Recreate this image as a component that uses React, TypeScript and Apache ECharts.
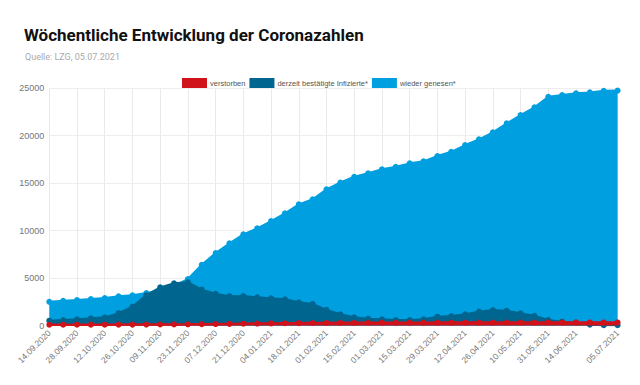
import React, { useEffect, useRef } from "react";
import * as echarts from "echarts";

const dates = [
  "14.09.2020", "21.09.2020", "28.09.2020", "05.10.2020", "12.10.2020", "19.10.2020", "26.10.2020",
  "02.11.2020", "09.11.2020", "16.11.2020", "23.11.2020", "30.11.2020", "07.12.2020", "14.12.2020",
  "21.12.2020", "28.12.2020", "04.01.2021", "11.01.2021", "18.01.2021", "25.01.2021", "01.02.2021",
  "08.02.2021", "15.02.2021", "22.02.2021", "01.03.2021", "08.03.2021", "15.03.2021", "22.03.2021",
  "29.03.2021", "05.04.2021", "12.04.2021", "19.04.2021", "26.04.2021", "03.05.2021", "10.05.2021",
  "17.05.2021", "31.05.2021", "07.06.2021", "14.06.2021", "21.06.2021", "28.06.2021", "05.07.2021",
];

const verstorben = [
  80, 82, 84, 86, 88, 90, 93, 97, 103, 112, 124, 138, 154, 170, 188, 206, 222, 237, 250, 261, 271,
  279, 285, 290, 294, 297, 300, 302, 304, 306, 308, 310, 312, 314, 316, 318, 320, 321, 322, 322, 323, 323,
];

const infizierte = [
  510, 580, 650, 760, 860, 1300, 1980, 3210, 4020, 4450, 4550, 3780, 3340, 3090, 3110, 2970, 2860,
  2760, 2440, 2270, 1650, 1180, 860, 720, 650, 580, 580, 660, 930, 1000, 1180, 1460, 1630, 1560,
  1290, 1030, 580, 400, 300, 80, 30, 30,
];

const genesen = [
  2500, 2610, 2690, 2790, 2900, 3080, 3180, 3420, 3700, 4150, 4900, 6400, 7640, 8660, 9610, 10240,
  11010, 11820, 12770, 13300, 14350, 15070, 15680, 16040, 16460, 16730, 17090, 17300, 17860, 18310,
  19020, 19620, 20360, 21300, 22180, 22990, 24110, 24290, 24470, 24570, 24740, 24760,
];

const seriesNames = ["verstorben", "derzeit bestätigte Infizierte*", "wieder genesen*"];
const yTicks = { min: 0, max: 25000, interval: 5000 };

const tooltipDate = "22.03.2021";
const tooltipRows = ["verstorben: 302", "derzeit bestätigte Infizierte*: 660", "wieder genesen*: 17300"];

const RED = "#d0121b";
const DARK = "#00668f";
const LIGHT = "#009fe0";

const showIdx = (i: number) => (i % 2 === 0 && i !== dates.length - 2) || i === dates.length - 1;

export default function App() {
  const ref = useRef<HTMLDivElement>(null);
  useEffect(() => {
    if (!ref.current) return;
    const chart = echarts.init(ref.current, undefined, { renderer: "svg" });
    const axisFont = "Liberation Sans, Arial, sans-serif";
    const tipFill = "rgba(0,50,90,0.3)";
    chart.setOption({
      animation: false,
      backgroundColor: "#ffffff",
      title: [
        {
          text: "Wöchentliche Entwicklung der Coronazahlen",
          left: 19,
          top: 21,
          textStyle: { fontFamily: "Roboto, sans-serif", fontWeight: "bold", fontSize: 17, color: "#111" },
        },
        {
          text: "Quelle: LZG, 05.07.2021",
          left: 20,
          top: 47,
          textStyle: { fontFamily: "Roboto, sans-serif", fontWeight: "normal", fontSize: 9, color: "#aaa" },
        },
      ],
      legend: {
        top: 73,
        left: 177,
        itemWidth: 25,
        itemHeight: 10,
        itemGap: 4,
        icon: "rect",
        data: seriesNames,
        textStyle: { fontFamily: axisFont, fontSize: 7.5, color: "#555", padding: [0, 0, 0, -2] },
      },
      grid: { left: 49.3, right: 22.4, top: 88.3, bottom: 59.5, containLabel: false },
      xAxis: {
        type: "category",
        data: dates,
        boundaryGap: false,
        axisLine: { show: true, lineStyle: { color: "#ddd" } },
        axisTick: { show: false },
        axisLabel: {
          interval: (i: number) => showIdx(i),
          rotate: 45,
          margin: 6,
          fontFamily: axisFont,
          fontSize: 8.5,
          color: "#777",
        },
        splitLine: { show: true, interval: (i: number) => showIdx(i), lineStyle: { color: "#eaeaea", width: 1 } },
      },
      yAxis: {
        type: "value",
        min: yTicks.min,
        max: yTicks.max,
        interval: yTicks.interval,
        axisLine: { show: false },
        axisTick: { show: false },
        axisLabel: {
          fontFamily: axisFont,
          fontSize: 9,
          color: "#777",
          margin: 5,
          formatter: (v: number) => String(v),
        },
        splitLine: { show: true, lineStyle: { color: "#eeeeee" } },
      },
      series: [
        {
          name: seriesNames[0],
          type: "line",
          data: verstorben,
          z: 4,
          color: RED,
          symbol: "circle",
          symbolSize: 6,
          lineStyle: { width: 2.5, color: RED },
          itemStyle: { color: RED },
          areaStyle: { color: RED, opacity: 1 },
        },
        {
          name: seriesNames[1],
          type: "line",
          data: infizierte,
          z: 3,
          color: DARK,
          symbol: "circle",
          symbolSize: 6,
          lineStyle: { width: 2, color: DARK },
          itemStyle: { color: DARK },
          areaStyle: { color: DARK, opacity: 1 },
        },
        {
          name: seriesNames[2],
          type: "line",
          data: genesen,
          z: 2,
          color: LIGHT,
          symbol: "circle",
          symbolSize: 6,
          lineStyle: { width: 2, color: LIGHT },
          itemStyle: { color: LIGHT },
          areaStyle: { color: LIGHT, opacity: 1 },
        },
      ],
      graphic: [
        {
          type: "group",
          z: 100,
          children: [
            { type: "rect", shape: { x: 306, y: 249, width: 119, height: 40, r: 3 }, style: { fill: "rgba(0,50,90,0.15)" } },
            { type: "polygon", shape: { points: [[425, 259], [430, 263], [425, 267]] }, style: { fill: "rgba(0,50,90,0.15)" } },
            {
              type: "text",
              x: 310,
              y: 251,
              style: { text: tooltipDate, fontFamily: axisFont, fontWeight: "bold", fontSize: 8, fill: tipFill },
            },
            ...tooltipRows.flatMap((t, i) => [
              { type: "rect", shape: { x: 310, y: 262 + i * 9, width: 6, height: 6 }, style: { fill: tipFill } },
              {
                type: "text",
                x: 318,
                y: 261 + i * 9,
                style: { text: t, fontFamily: axisFont, fontSize: 8, fill: tipFill },
              },
            ]),
          ],
        },
      ],
    });
    return () => chart.dispose();
  }, []);
  return <div ref={ref} style={{ position: "fixed", left: 0, top: 0, width: 640, height: 385 }} />;
}
